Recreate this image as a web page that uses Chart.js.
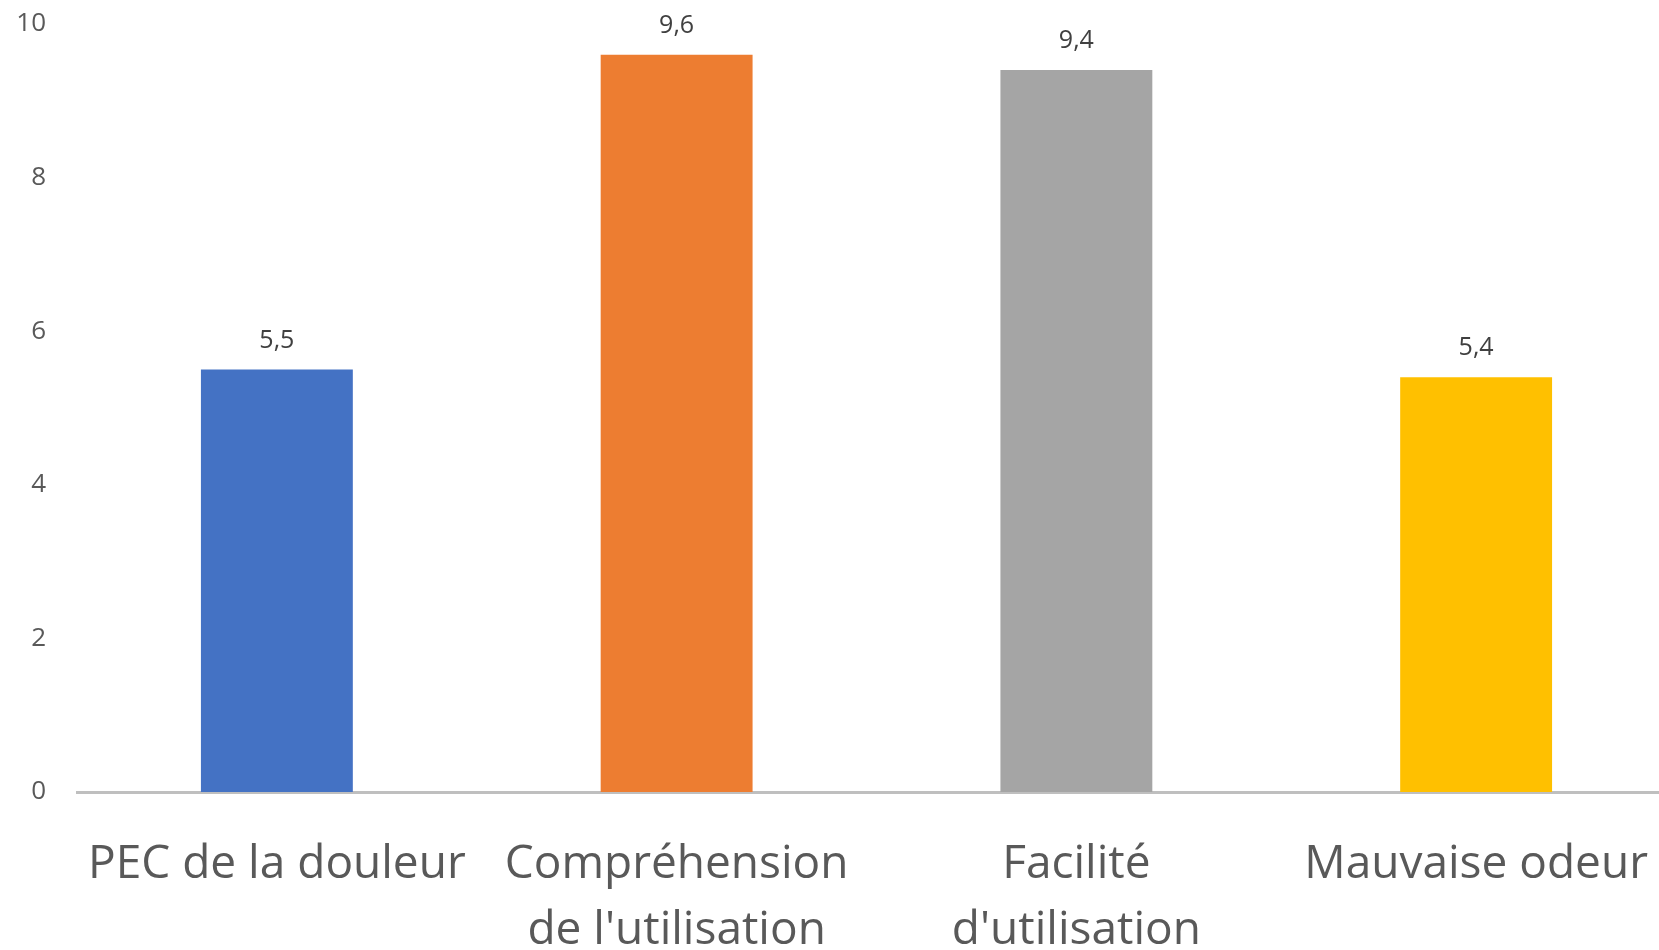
<!DOCTYPE html>
<html>
<head>
<meta charset="utf-8">
<script src="https://cdn.jsdelivr.net/npm/chart.js@4.4.0/dist/chart.umd.min.js"></script>
<style>
  html, body { margin: 0; padding: 0; overflow: hidden; background: #fff; }
  #wrap { position: relative; width: 1676px; height: 950px; }
</style>
</head>
<body>
<div id="wrap"><canvas id="myChart"></canvas></div>
<script>
var categories = [
    'PEC de la douleur',
    ['Compréhension', "de l'utilisation"],
    ['Facilité', "d'utilisation"],
    'Mauvaise odeur'
];
var scores = [5.5, 9.6, 9.4, 5.4];
var barColors = ['#4472C4', '#ED7D31', '#A5A5A5', '#FFC000'];
var yTicks = [0, 2, 4, 6, 8, 10];

// valeurs au-dessus des barres, format français
var valueLabels = {
    id: 'valueLabels',
    afterDatasetsDraw(chart) {
        var ctx = chart.ctx;
        var meta = chart.getDatasetMeta(0);
        ctx.save();
        ctx.font = '25px "Open Sans"';
        ctx.fillStyle = '#404040';
        ctx.textAlign = 'center';
        ctx.textBaseline = 'middle';
        meta.data.forEach(function (bar, i) {
            var txt = String(scores[i]).replace('.', ',');
            ctx.fillText(txt, bar.x, bar.y - 29);
        });
        ctx.restore();
    }
};

function chart() {
    var ctx = document.getElementById('myChart').getContext('2d');
    new Chart(ctx, {
        type: 'bar',
        data: {
            labels: categories,
            datasets: [{
                data: scores,
                backgroundColor: barColors,
                borderWidth: 0,
                barPercentage: 0.76,
                categoryPercentage: 0.5
            }]
        },
        options: {
            responsive: true,
            maintainAspectRatio: false,
            animation: false,
            layout: { padding: { top: 24, right: 0, bottom: 0, left: 0 } },
            plugins: {
                legend: { display: false },
                tooltip: { enabled: false }
            },
            scales: {
                x: {
                    grid: { display: false, drawTicks: false },
                    border: { display: true, color: '#BFBFBF', width: 3 },
                    ticks: {
                        color: '#595959',
                        font: { family: 'Open Sans', size: 46, lineHeight: 1.43 },
                        padding: 40,
                        maxRotation: 0,
                        autoSkip: false
                    },
                    afterFit: function (scale) {
                        scale.height = 158;
                        scale.paddingLeft = 0;
                        scale.paddingRight = 0;
                    }
                },
                y: {
                    min: 0,
                    max: 10,
                    afterBuildTicks: function (scale) {
                        scale.ticks = yTicks.map(function (v) { return { value: v }; });
                    },
                    grid: { display: false, drawTicks: false },
                    border: { display: false },
                    ticks: {
                        color: '#595959',
                        font: { family: 'Open Sans', size: 26 },
                        padding: 31
                    },
                    afterFit: function (scale) {
                        scale.width = 77;
                        scale.paddingTop = 14;
                        scale.paddingBottom = 14;
                    }
                }
            }
        },
        plugins: [valueLabels]
    });
}
chart();
</script>
</body>
</html>
